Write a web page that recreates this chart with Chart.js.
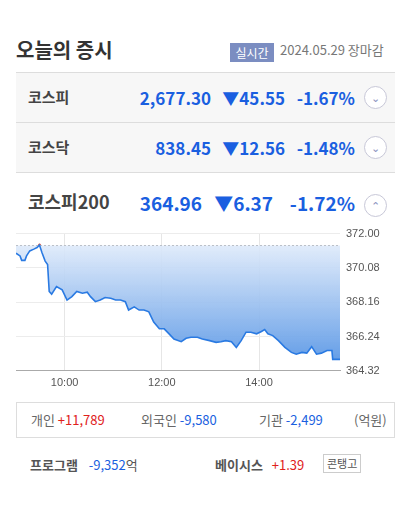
<!DOCTYPE html><html><head><meta charset="utf-8">
<script src="https://cdn.jsdelivr.net/npm/chart.js@4"></script>
<style>
body{margin:0;width:400px;height:508px;background:#fff;font-family:"Noto Sans CJK KR","Noto Sans",sans-serif;position:relative;overflow:hidden}
.a{position:absolute;white-space:nowrap}
.row{position:absolute;left:16px;width:379px;height:49px;background:#f7f7f7;border-top:1px solid #ddd}
.nm{position:absolute;left:12px;font-size:15px;font-weight:bold;color:#444}
.bl{color:#1a5fe0;font-weight:bold;font-size:17px}
.cir{position:absolute;width:21px;height:21px;border:1px solid #c8c8d8;border-radius:50%;background:#fff;color:#8a8fc0;font-size:11px;text-align:center;line-height:20px}
</style></head><body>
<div class="a" style="left:16px;top:35px;font-size:20px;font-weight:bold;color:#333">오늘의 증시</div>
<div class="a" style="left:230px;top:43px;width:44px;height:19px;background:#7b8dc1;color:#fff;font-size:12px;text-align:center;line-height:19px">실시간</div>
<div class="a" style="left:280px;top:40px;font-size:13px;color:#777">2024.05.29 장마감</div>
<div class="row" style="top:72px"><div class="nm" style="top:13px">코스피</div>
<div class="a bl" style="right:184px;top:12px">2,677.30</div><div class="a bl" style="right:110px;top:12px">▼45.55</div><div class="a bl" style="right:40px;top:12px">-1.67%</div><div class="cir" style="left:348px;top:13px">⌄</div></div>
<div class="row" style="top:122px;border-bottom:1px solid #ddd"><div class="nm" style="top:13px">코스닥</div>
<div class="a bl" style="right:184px;top:12px">838.45</div><div class="a bl" style="right:110px;top:12px">▼12.56</div><div class="a bl" style="right:40px;top:12px">-1.48%</div><div class="cir" style="left:348px;top:13px">⌄</div></div>
<div class="a" style="left:28px;top:188px;font-size:18px;font-weight:bold;color:#444">코스피200</div>
<div class="a bl" style="right:198px;top:189px;font-size:19px">364.96</div>
<div class="a bl" style="right:127px;top:189px;font-size:19px">▼6.37</div>
<div class="a bl" style="right:45px;top:189px;font-size:19px">-1.72%</div>
<div class="cir" style="left:364px;top:194px">⌃</div>
<div class="a" style="left:0;top:221px;width:400px;height:175px"><canvas id="c"></canvas></div>
<div class="a" style="left:16px;top:402px;width:377px;height:34px;border:1px solid #ddd;font-size:13px;color:#666;line-height:34px">
<span style="position:absolute;left:14px">개인 <span style="color:#e0201a">+11,789</span></span>
<span style="position:absolute;left:124px">외국인 <span style="color:#1a5fe0">-9,580</span></span>
<span style="position:absolute;left:242px">기관 <span style="color:#1a5fe0">-2,499</span></span>
<span style="position:absolute;left:337px">(억원)</span></div>
<div class="a" style="left:30px;top:455px;font-size:13px;color:#555"><b>프로그램</b> <span style="color:#1a5fe0;margin-left:8px">-9,352</span>억</div>
<div class="a" style="left:215px;top:455px;font-size:13px;color:#555"><b>베이시스</b> <span style="color:#e0201a;margin-left:6px">+1.39</span></div>
<div class="a" style="left:323px;top:454px;font-size:11px;color:#555;border:1px solid #ccc;padding:0 3px;line-height:17px">콘탱고</div>
<script>
const minutes=[0,5,7,11,13,17,22,26,29,32,36,39,41,44,50,57,63,69,75,82,88,92,98,104,110,117,123,129,135,139,146,152,158,164,170,177,183,189,195,204,210,216,224,230,239,247,253,259,266,272,278,284,290,297,303,307,311,317,324,332,340,346,353,359,365,371,377,384,390,391,400];
const values=[370.90,370.75,370.50,370.50,370.75,371.03,371.13,371.22,371.36,370.94,370.46,370.27,368.76,368.61,369.04,368.85,368.28,368.47,368.76,368.66,368.72,368.47,368.19,368.28,368.42,368.38,368.28,368.28,368.19,367.72,367.90,367.72,367.72,367.62,367.05,366.67,366.67,366.39,366.10,365.95,366.14,366.20,366.20,366.10,366.01,365.91,365.95,366.01,365.95,365.63,366.01,366.48,366.48,366.39,366.52,366.63,366.39,366.29,366.01,365.63,365.35,365.25,365.35,365.31,365.67,365.25,365.31,365.46,365.46,364.96,364.96];
const prevClose=371.33;
const yTicks=[364.32,366.24,368.16,370.08,372.00];
const xTicks=[60,180,300];const xLabels=['10:00','12:00','14:00'];
const ctx=document.getElementById('c');
new Chart(ctx,{type:'line',data:{datasets:[
{data:minutes.map((m,i)=>({x:m,y:values[i]})),borderColor:'#2a7ae2',borderWidth:1.6,pointRadius:0,tension:0,
 fill:{value:prevClose},backgroundColor:(c)=>{const a=c.chart.chartArea;if(!a)return '#9cc';const g=c.chart.ctx.createLinearGradient(0,a.top,0,a.bottom);g.addColorStop(0,'rgba(235,242,252,0.9)');g.addColorStop(1,'rgba(80,145,228,0.95)');return g;}},
{data:[{x:0,y:prevClose},{x:400,y:prevClose}],borderColor:'#999',borderWidth:1,borderDash:[2,2],pointRadius:0,fill:false},
{data:[{x:29,y:371.36}],pointRadius:1.5,pointBackgroundColor:'#f05030',pointBorderWidth:0,showLine:false}
]},options:{animation:false,responsive:true,maintainAspectRatio:false,layout:{padding:{left:16,top:12,right:0}},
plugins:{legend:{display:false},tooltip:{enabled:false}},
scales:{x:{type:'linear',min:0,max:400,afterBuildTicks:s=>{s.ticks=xTicks.map(v=>({value:v}))},
 ticks:{callback:(v)=>xLabels[xTicks.indexOf(v)],color:'#555',font:{size:11,family:'Liberation Sans'},maxRotation:0,padding:6},
 grid:{color:'#e6e6e6',drawTicks:false},border:{color:'#aaa',width:1}},
y:{position:'right',min:364.32,max:372,afterBuildTicks:s=>{s.ticks=yTicks.map(v=>({value:v}))},afterFit:s=>{s.width=60},
 ticks:{callback:v=>v.toFixed(2),color:'#555',font:{size:11,family:'Liberation Sans'},padding:6},
 grid:{color:'#ececec',drawTicks:false},border:{display:false}}}}});
</script></body></html>
